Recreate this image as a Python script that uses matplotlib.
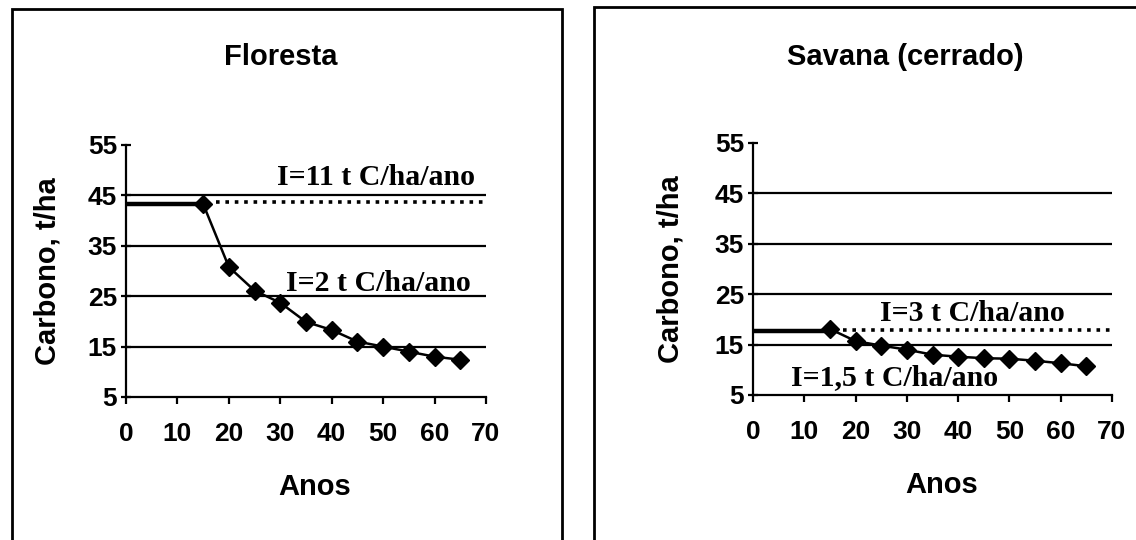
import matplotlib
matplotlib.use("Agg")
import matplotlib.pyplot as plt
from matplotlib.patches import Rectangle

# --- data ---
years = [15, 20, 25, 30, 35, 40, 45, 50, 55, 60, 65]
floresta_c = [43.3, 30.8, 26.1, 23.7, 19.9, 18.3, 16.0, 15.0, 14.0, 13.0, 12.4]
savana_c = [18.1, 15.7, 14.8, 14.0, 13.0, 12.6, 12.3, 12.2, 11.8, 11.3, 10.7]

floresta_initial = 43.3
savana_initial = 17.7
floresta_dotted = 43.6
savana_dotted = 17.9
initial_years = [0, 15]
dotted_years = [17.5, 70]

grid_levels = [15, 25, 35, 45]
y_ticks = [5, 15, 25, 35, 45, 55]
x_ticks = [0, 10, 20, 30, 40, 50, 60, 70]

titles = ["Floresta", "Savana (cerrado)"]
notes_floresta = [("I=11 t C/ha/ano", 48.7, 47.1), ("I=2 t C/ha/ano", 49.0, 26.0)]
notes_savana = [("I=3 t C/ha/ano", 42.8, 19.7), ("I=1,5 t C/ha/ano", 27.7, 6.9)]

W, H = 1136, 540
fig = plt.figure(figsize=(W / 100, H / 100), dpi=100)
sans = ["Liberation Sans", "DejaVu Sans"]
serif = ["Liberation Serif", "DejaVu Serif"]


def px(x0, y0, x1, y1):
    # pixel box -> figure fraction rect
    return [x0 / W, 1 - y1 / H, (x1 - x0) / W, (y1 - y0) / H]


# panel frames
fig.patches.append(Rectangle((12 / W, -0.1), (562 - 12) / W, 1.1 - 9 / H,
                             transform=fig.transFigure, fill=False,
                             edgecolor="black", lw=2))
fig.patches.append(Rectangle((594 / W, -0.1), 0.5, 1.1 - 7 / H,
                             transform=fig.transFigure, fill=False,
                             edgecolor="black", lw=2))

fig.text(281 / W, 1 - 57 / H, titles[0], ha="center", va="center",
         fontsize=21, fontweight="bold", family=sans)
fig.text(905 / W, 1 - 57 / H, titles[1], ha="center", va="center",
         fontsize=21, fontweight="bold", family=sans)

ax1 = fig.add_axes(px(126, 145, 486, 397))
ax2 = fig.add_axes(px(753, 143, 1112, 395))

panels = [
    (ax1, floresta_c, floresta_initial, floresta_dotted, notes_floresta),
    (ax2, savana_c, savana_initial, savana_dotted, notes_savana),
]

for ax, vals, init, dot, notes in panels:
    for g in grid_levels:
        ax.axhline(g, color="black", lw=1.6, zorder=1)
    ax.plot(dotted_years, [dot, dot], color="black", lw=2.6,
            linestyle=(0, (1, 1.6)), zorder=2)
    ax.plot(initial_years, [init, init], color="black", lw=3.2, zorder=3)
    ax.plot(years, vals, color="black", lw=1.8, marker="D", markersize=9,
            zorder=4)
    for txt, x, y in notes:
        ax.text(x, y, txt, ha="center", va="baseline", fontsize=21.5,
                fontweight="bold", family=serif)

    ax.set_xlim(0, 70)
    ax.set_ylim(5, 55)
    ax.set_xticks(x_ticks)
    ax.set_yticks(y_ticks)
    for s in ["top", "right"]:
        ax.spines[s].set_visible(False)
    for s in ["left", "bottom"]:
        ax.spines[s].set_linewidth(1.6)
    ax.tick_params(direction="out", length=5, width=1.6, labelsize=19)
    ax.tick_params(axis="y", direction="inout", length=7, pad=3)
    ax.tick_params(axis="x", pad=13)
    for lab in ax.get_xticklabels() + ax.get_yticklabels():
        lab.set_fontweight("bold")
        lab.set_family(sans)
    ax.set_xlabel("Anos", fontsize=21, fontweight="bold", family=sans)
    ax.set_ylabel("Carbono, t/ha", fontsize=21, fontweight="bold", family=sans)
    ax.xaxis.set_label_coords(0.525, -0.3)
    ax.patch.set_alpha(0)

ax1.yaxis.set_label_coords(-0.18, 0.5)
ax2.yaxis.set_label_coords(-0.19, 0.5)

fig.savefig("out.png", dpi=100)
